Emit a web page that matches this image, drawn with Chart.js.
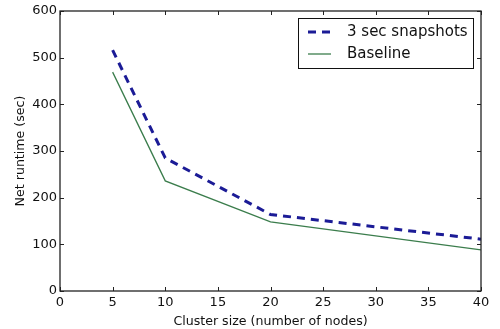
<!DOCTYPE html>
<html><head><meta charset="utf-8">
<script src="https://cdn.jsdelivr.net/npm/chart.js@4"></script>
<style>html,body{margin:0;padding:0;background:#fff}#wrap{width:500px;height:329px}</style>
</head><body><div id="wrap"><canvas id="c" width="500" height="329"></canvas></div>
<script>
const clusterSizes = [5, 10, 20, 40];
const snapshotRuntime = [516, 285, 164, 111];
const baselineRuntime = [469, 236, 148, 88];
const xTicks = [0, 5, 10, 15, 20, 25, 30, 35, 40];
const yTicks = [0, 100, 200, 300, 400, 500, 600];
const seriesNames = ['3 sec snapshots', 'Baseline'];
const xTitle = 'Cluster size (number of nodes)';
const yTitle = 'Net runtime (sec)';

const FONT = '"DejaVu Sans", sans-serif';
const BLUE = '#1b1b96';
const GREEN = '#3b7d4c';
const DASH = [8, 6];

const frame = {
  id: 'frame',
  afterDraw(chart) {
    const {ctx, chartArea: a, scales: {x, y}} = chart;
    ctx.save();
    ctx.strokeStyle = '#222';
    ctx.lineWidth = 1;
    const L = 4;
    ctx.beginPath();
    xTicks.forEach(v => {
      const px = Math.round(x.getPixelForValue(v)) + 0.5;
      ctx.moveTo(px, a.bottom); ctx.lineTo(px, a.bottom - L);
      ctx.moveTo(px, a.top); ctx.lineTo(px, a.top + L);
    });
    yTicks.forEach(v => {
      const py = Math.round(y.getPixelForValue(v)) + 0.5;
      ctx.moveTo(a.left, py); ctx.lineTo(a.left + L, py);
      ctx.moveTo(a.right, py); ctx.lineTo(a.right - L, py);
    });
    ctx.stroke();
    ctx.lineWidth = 1.3;
    ctx.strokeRect(a.left, a.top, a.right - a.left, a.bottom - a.top);
    // legend
    const bx = 298, by = 18, bw = 175, bh = 50;
    ctx.fillStyle = '#fff';
    ctx.fillRect(bx, by, bw, bh);
    ctx.lineWidth = 1;
    ctx.strokeStyle = '#111';
    ctx.strokeRect(bx + 0.5, by + 0.5, bw, bh);
    ctx.font = '15px ' + FONT;
    ctx.fillStyle = '#111';
    ctx.textBaseline = 'middle';
    const rows = [{y: by + 14, c: BLUE, w: 3, d: DASH}, {y: by + 36, c: GREEN, w: 1.3, d: []}];
    rows.forEach((r, i) => {
      ctx.beginPath();
      ctx.strokeStyle = r.c; ctx.lineWidth = r.w; ctx.setLineDash(r.d);
      ctx.moveTo(308, r.y); ctx.lineTo(331, r.y); ctx.stroke();
      ctx.setLineDash([]);
      ctx.fillText(seriesNames[i], 347, r.y);
    });
    ctx.restore();
  }
};

new Chart(document.getElementById('c'), {
  type: 'line',
  data: {
    datasets: [
      {label: seriesNames[0], data: clusterSizes.map((v, i) => ({x: v, y: snapshotRuntime[i]})),
       borderColor: BLUE, borderWidth: 3, borderDash: DASH, pointRadius: 0, tension: 0, fill: false},
      {label: seriesNames[1], data: clusterSizes.map((v, i) => ({x: v, y: baselineRuntime[i]})),
       borderColor: GREEN, borderWidth: 1.3, pointRadius: 0, tension: 0, fill: false}
    ]
  },
  options: {
    responsive: false, animation: false,
    layout: {padding: {top: 11, right: 19, bottom: 0, left: 0}},
    plugins: {legend: {display: false}, tooltip: {enabled: false}},
    scales: {
      x: {type: 'linear', min: 0, max: 40,
          afterBuildTicks: s => { s.ticks = xTicks.map(v => ({value: v})); },
          afterFit: s => { s.height = 38; },
          grid: {display: false, drawTicks: false}, border: {display: false},
          ticks: {color: '#111', font: {family: FONT, size: 13}, padding: 4, maxRotation: 0, autoSkip: false},
          title: {display: true, text: xTitle, color: '#111', font: {family: FONT, size: 12.6}, padding: {top: 2, bottom: 0}}},
      y: {type: 'linear', min: 0, max: 600,
          afterBuildTicks: s => { s.ticks = yTicks.map(v => ({value: v})); },
          afterFit: s => { s.width = 60; },
          grid: {display: false, drawTicks: false}, border: {display: false},
          ticks: {color: '#111', font: {family: FONT, size: 13}, padding: 3, autoSkip: false},
          title: {display: true, text: yTitle, color: '#111', font: {family: FONT, size: 12.6}, padding: {top: 13, bottom: 4}}}
    }
  },
  plugins: [frame]
});
</script></body></html>
